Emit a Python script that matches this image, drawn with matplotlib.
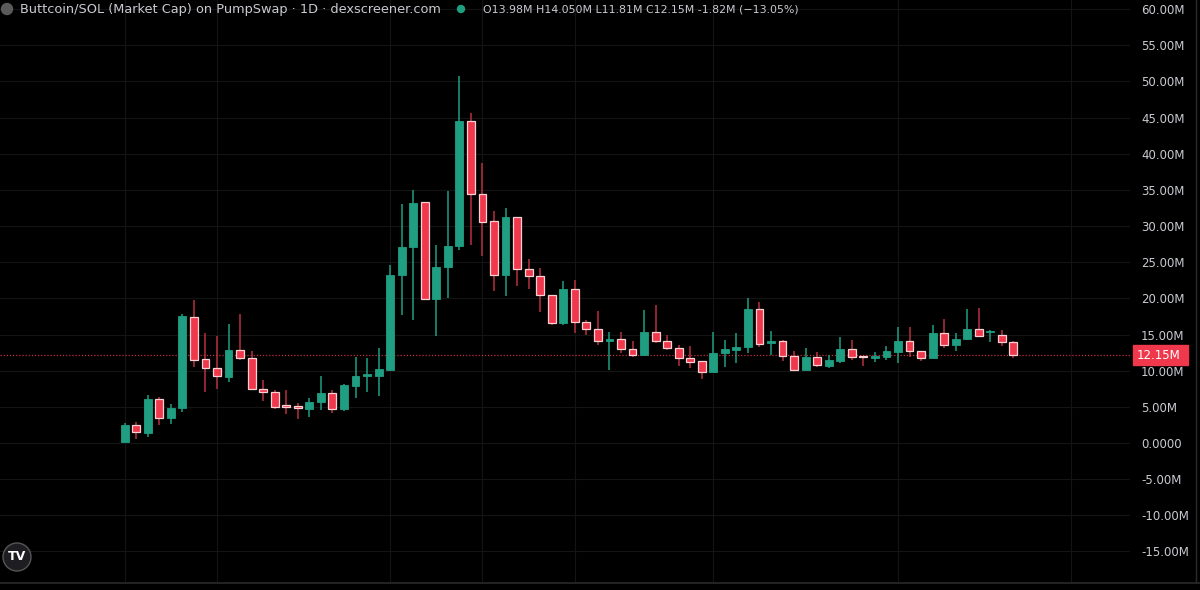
import matplotlib

matplotlib.use("Agg")
import numpy as np
from matplotlib import pyplot as plt
from matplotlib.patches import Circle, Rectangle

# ---------- dati (valori in milioni) ----------
opens = [0.1, 2.45, 1.42, 6.13, 3.41, 4.8, 17.47, 11.58, 10.41, 9.17,
         12.86, 11.8, 7.51, 7.1, 5.1, 5.1, 4.74, 5.63, 6.87, 4.66,
         7.93, 9.27, 9.3, 10.1, 23.3, 27.07, 33.3, 19.96, 24.3, 27.3,
         44.6, 34.4, 30.7, 23.2, 31.3, 24.07, 23.1, 20.5, 16.6, 21.3,
         16.8, 15.8, 14.1, 14.4, 13.04, 12.2, 15.3, 14.15, 13.14, 11.8,
         11.3, 9.82, 12.4, 12.82, 13.28, 18.53, 13.8, 14.1, 12.03, 10.1,
         11.9, 10.65, 11.38, 13.0, 12.0, 11.76, 11.9, 12.63, 14.1, 12.77,
         11.71, 15.17, 13.51, 14.43, 15.77, 15.3, 14.94, 13.98]
highs = [2.8, 2.95, 6.7, 6.4, 5.4, 17.9, 19.8, 15.2, 14.8, 16.4,
         17.8, 12.7, 8.7, 7.33, 7.33, 5.57, 6.27, 9.27, 7.33, 8.16,
         11.9, 11.7, 13.1, 24.6, 33.0, 35.0, 33.4, 27.4, 34.8, 50.7,
         45.6, 38.7, 32.1, 32.5, 31.3, 25.5, 24.2, 20.5, 22.4, 22.5,
         17.0, 18.3, 15.4, 15.3, 14.1, 18.4, 19.1, 14.9, 13.55, 13.4,
         11.3, 15.3, 14.25, 15.17, 20.0, 19.5, 15.5, 14.25, 12.7, 13.1,
         12.6, 12.17, 14.6, 14.25, 12.03, 12.63, 13.46, 16.1, 16.1, 12.77,
         16.28, 17.1, 15.17, 18.53, 18.63, 15.6, 15.6, 14.05]
lows = [0.0, 0.6, 0.87, 2.5, 2.6, 4.33, 10.55, 7.05, 7.47, 8.48,
        11.5, 7.3, 5.8, 4.66, 4.0, 3.28, 3.64, 4.56, 4.19, 4.47,
        6.18, 7.1, 6.5, 10.0, 17.7, 17.0, 19.8, 14.8, 20.0, 26.7,
        27.4, 25.8, 21.06, 20.4, 21.7, 21.3, 18.1, 16.3, 16.3, 15.2,
        14.9, 13.55, 10.1, 12.4, 11.9, 12.07, 13.9, 12.86, 10.65, 10.33,
        8.81, 9.78, 10.47, 11.1, 12.5, 13.3, 12.2, 11.3, 10.0, 10.1,
        10.47, 10.42, 11.1, 11.48, 10.65, 11.24, 11.48, 11.02, 11.85, 11.38,
        11.71, 13.18, 12.77, 14.25, 14.6, 14.0, 13.4, 11.81]
closes = [2.5, 1.52, 6.08, 3.41, 4.88, 17.56, 11.48, 10.33, 9.22, 12.86,
          11.76, 7.43, 7.05, 5.02, 4.98, 4.8, 5.71, 6.87, 4.66, 8.02,
          9.27, 9.4, 10.2, 23.2, 27.07, 33.24, 19.96, 24.3, 27.3, 44.6,
          34.4, 30.6, 23.2, 31.3, 24.0, 23.1, 20.5, 16.6, 21.3, 16.8,
          15.8, 14.15, 14.4, 12.96, 12.2, 15.35, 14.1, 13.14, 11.76, 11.24,
          9.82, 12.45, 12.96, 13.32, 18.53, 13.69, 14.1, 11.99, 10.1, 11.94,
          10.75, 11.48, 13.0, 11.85, 11.85, 11.94, 12.72, 14.1, 12.72, 11.71,
          15.17, 13.51, 14.43, 15.77, 14.8, 15.45, 13.92, 12.15]
# indici delle candele su cui cadono le linee verticali della griglia temporale
time_grid = [0, 8, 23, 31, 39, 51, 67, 82]
y_ticks = [60, 55, 50, 45, 40, 35, 30, 25, 20, 15, 10, 5, 0, -5, -10, -15]
last_price = 12.15

title = "Buttcoin/SOL (Market Cap) on PumpSwap · 1D · dexscreener.com"
ohlc_text = "O13.98M H14.050M L11.81M C12.15M -1.82M (−13.05%)"

UP = "#1f9e82"
DOWN = "#f0384c"
WICK_DOWN = "#b8303e"
BG = "#000000"
GRID = "#141414"
TXT = "#c8cad0"

W, H = 1200, 590
fig = plt.figure(figsize=(12, 5.9), dpi=100, facecolor=BG)
ax = fig.add_axes([0, 7 / H, 1130 / W, 583 / H], facecolor=BG)
px = fig.dpi_scale_trans  # coordinate in pollici = pixel / 100


def pix(xp, yp):
    """pixel dall'alto a sinistra -> pollici per dpi_scale_trans"""
    return xp / 100, (H - yp) / 100


x = np.arange(len(opens))
o, h, l, c = map(np.array, (opens, highs, lows, closes))
up = c >= o

# griglia
for v in y_ticks:
    ax.axhline(v, color=GRID, lw=0.8, zorder=0)
for i in time_grid:
    ax.axvline(i, color=GRID, lw=0.8, zorder=0)

# candele
ax.vlines(x, l, h, colors=np.where(up, UP, WICK_DOWN), lw=1.1, zorder=2)
bottom = np.minimum(o, c)
height = np.maximum(np.abs(c - o), 0.25)
ax.bar(x[up], height[up], bottom=bottom[up], width=0.68, color=UP,
       edgecolor=UP, lw=0.6, zorder=3)
ax.bar(x[~up], height[~up], bottom=bottom[~up], width=0.68, color=DOWN,
       edgecolor="#f9d0d4", lw=0.9, zorder=3)

# linea dell'ultimo prezzo
ax.axhline(last_price, color=DOWN, lw=0.9, ls=(0, (1, 1.5)), alpha=0.8, zorder=1)

ax.set_xlim(-10.8, 87.1)
ax.set_ylim(-19.36, 61.27)
ax.set_xticks([])
ax.yaxis.tick_right()
ax.set_yticks(y_ticks)
ax.set_yticklabels(["0.0000" if v == 0 else f"{v:.2f}M" for v in y_ticks])
ax.tick_params(axis="y", length=0, pad=8, labelsize=8.5, labelcolor=TXT)
for s in ax.spines.values():
    s.set_visible(False)

# etichetta prezzo
lab_y = ax.transData.transform((0, last_price))[1] / H
fig.patches.append(Rectangle((1133 / W, lab_y - 10 / H), 55 / W, 20 / H,
                             transform=fig.transFigure, color=DOWN, zorder=5))
fig.text(1137 / W, lab_y, f"{last_price:.2f}M", color="white", fontsize=8.5,
         va="center", ha="left", zorder=6)

# bordi
fig.add_artist(plt.Line2D([0, 1], [7 / H, 7 / H], color="#2a2a2a", lw=1.2))
fig.add_artist(plt.Line2D([1196 / W, 1196 / W], [7 / H, 1], color="#2a2a2a", lw=1))

# intestazione
fig.patches.append(Circle(pix(7, 9), 0.055, transform=px, color="#5a5a5a"))
fig.text(20 / W, 1 - 9 / H, title, color=TXT, fontsize=9.3, va="center", ha="left")
fig.patches.append(Circle(pix(461, 9), 0.035, transform=px, color=UP))
fig.text(483 / W, 1 - 9 / H, ohlc_text, color=TXT, fontsize=7.9, va="center", ha="left")

# logo TradingView
fig.patches.append(Circle(pix(17, 557), 0.14, transform=px,
                          facecolor="#1e1e22", edgecolor="#555", lw=1))
fig.text(17 / W, 1 - 557 / H, "TV", color="white", fontsize=9, fontweight="bold",
         va="center", ha="center")

fig.savefig("out.png", dpi=100, facecolor=BG)
